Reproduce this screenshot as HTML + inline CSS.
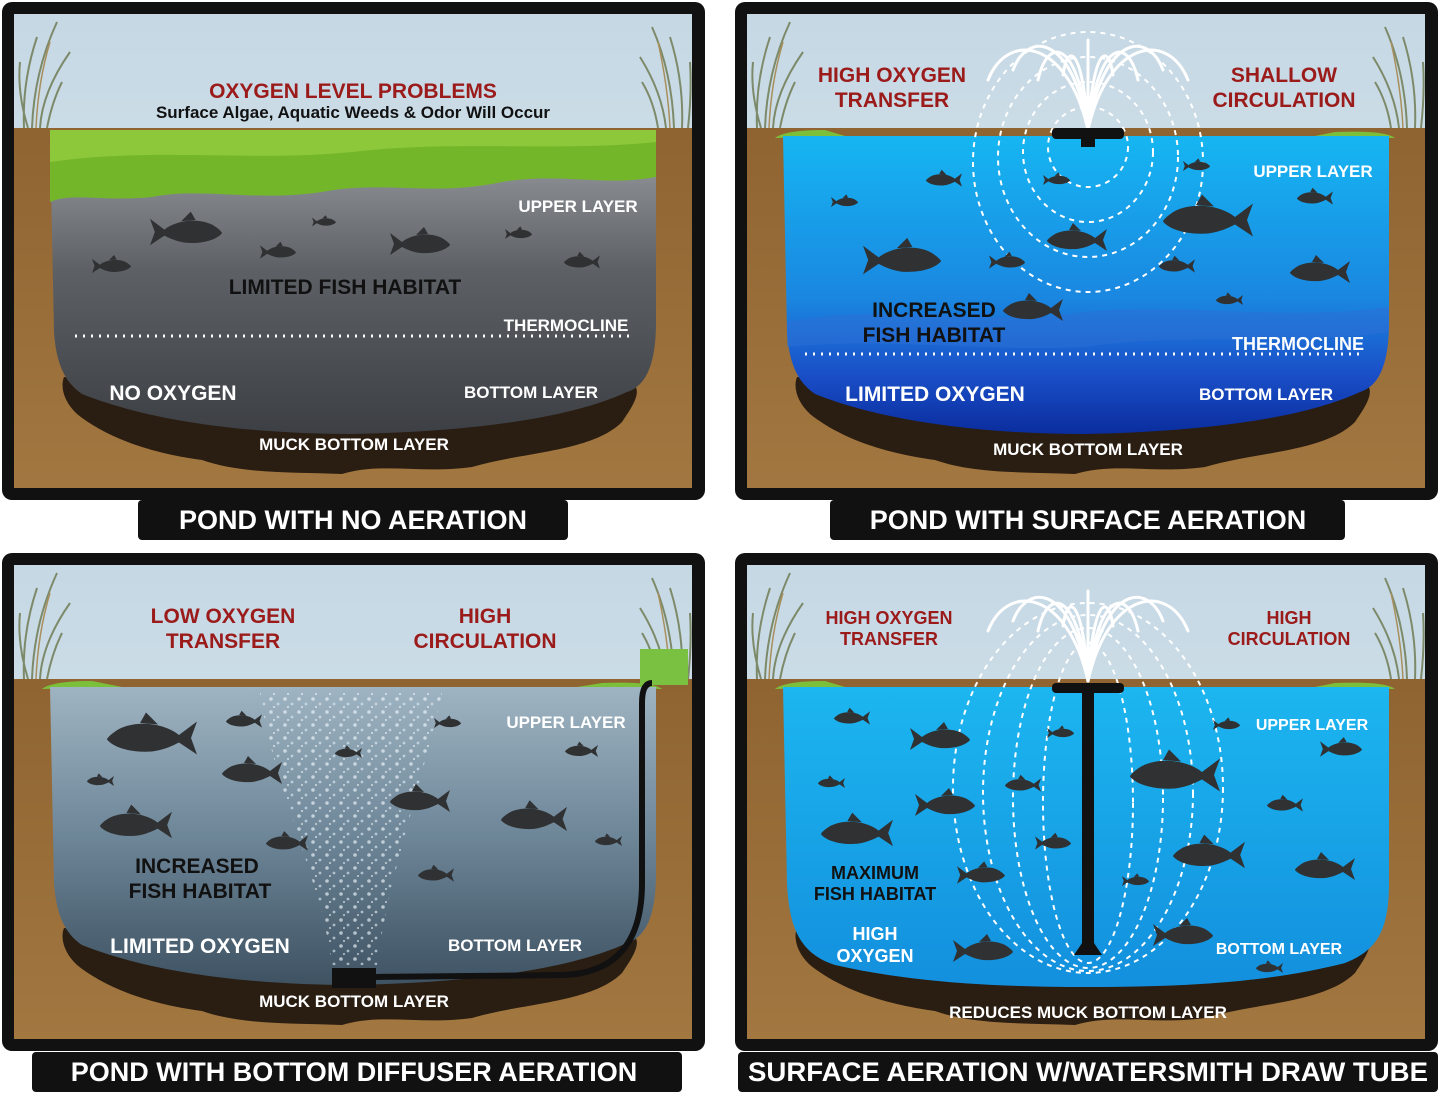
<!DOCTYPE html>
<html><head><meta charset="utf-8">
<style>
html,body{margin:0;padding:0;background:#fff;}
svg{display:block;}
text{font-family:"Liberation Sans",sans-serif;font-weight:bold;}
</style></head>
<body>
<svg width="1440" height="1093" viewBox="0 0 1440 1093" xmlns="http://www.w3.org/2000/svg">
<defs>
  <clipPath id="inner"><rect x="12" y="12" width="678" height="474"/></clipPath>
  <linearGradient id="sky" x1="0" y1="0" x2="0" y2="1">
    <stop offset="0" stop-color="#c5d8e4"/><stop offset="1" stop-color="#dde8ef"/>
  </linearGradient>
  <linearGradient id="dirt" x1="0" y1="0" x2="0" y2="1">
    <stop offset="0" stop-color="#8f6431"/><stop offset="1" stop-color="#a27740"/>
  </linearGradient>
  <linearGradient id="w1" x1="0" y1="0" x2="0" y2="1">
    <stop offset="0" stop-color="#9a9ea3"/><stop offset="0.45" stop-color="#5d6166"/><stop offset="1" stop-color="#3c3f44"/>
  </linearGradient>
  <linearGradient id="w2" x1="0" y1="0" x2="0" y2="1">
    <stop offset="0" stop-color="#16b6f2"/><stop offset="0.55" stop-color="#1a86e0"/><stop offset="0.8" stop-color="#1a4fc8"/><stop offset="1" stop-color="#0a2d9e"/>
  </linearGradient>
  <linearGradient id="w3" x1="0" y1="0" x2="0" y2="1">
    <stop offset="0" stop-color="#9fb4c2"/><stop offset="0.5" stop-color="#6d8698"/><stop offset="1" stop-color="#3e5262"/>
  </linearGradient>
  <linearGradient id="w4" x1="0" y1="0" x2="0" y2="1">
    <stop offset="0" stop-color="#1cb6f0"/><stop offset="1" stop-color="#138fdd"/>
  </linearGradient>
  <pattern id="bub" width="14" height="13" patternUnits="userSpaceOnUse">
    <circle cx="3" cy="3" r="1.8" fill="#eef6fb"/><circle cx="10" cy="8" r="1.4" fill="#dceaf3"/><circle cx="6" cy="11" r="1" fill="#fff"/>
  </pattern>
  <path id="fish" d="M0,-11 L12,-2 C22,-10 40,-12 52,-6 C57,-3 60,0 60,1 C56,6 45,10 30,9 C22,8 16,5 12,3 L0,11 L4,0 Z M26,-9 L34,-17 L38,-10 Z" fill="#2f3133"/>
  <g id="base">
    <rect x="0" y="0" width="703" height="498" rx="10" fill="#111"/>
    <rect x="12" y="12" width="678" height="474" fill="url(#sky)"/>
    <rect x="12" y="126" width="678" height="360" fill="url(#dirt)"/>
    <path d="M62,375 C100,378 130,380 160,378 L625,378 C645,385 630,405 620,420 C590,450 520,450 470,465 C420,472 380,460 340,472 C290,470 240,472 200,458 C140,450 100,432 75,412 C62,400 58,385 62,375Z" fill="#2a1d12"/>
    <g stroke="#7d8a6a" stroke-width="2" fill="none">
      <path d="M22,126 Q20,80 35,35 M30,126 Q32,70 55,20 M38,126 Q40,90 68,50 M26,126 Q15,90 18,60 M45,126 Q50,100 60,80"/>
      <path d="M680,126 Q682,80 668,35 M672,126 Q670,70 650,25 M664,126 Q660,90 638,55 M686,126 Q690,90 688,60 M656,126 Q652,100 640,80"/>
    </g>
    <g stroke="#a88f5c" stroke-width="1.5" fill="none">
      <path d="M34,126 Q36,80 48,40 M668,126 Q666,85 656,40"/>
    </g>
  </g>
  <path id="bowl" d="M48,134 H654 V320 C654,370 640,385 625,390 C560,420 450,430 350,432 C250,432 150,420 80,392 C62,380 54,360 52,330 Z"/>
  <g id="fount" fill="none" stroke="#fff" stroke-width="3" stroke-linecap="round">
    <path d="M0,0 C-20,-90 -80,-100 -100,-50"/>
    <path d="M0,0 C-15,-95 -60,-100 -75,-60"/>
    <path d="M0,0 C-10,-90 -40,-95 -50,-50"/>
    <path d="M0,0 C-5,-80 -20,-90 -25,-55"/>
    <path d="M0,0 C20,-90 80,-100 100,-50"/>
    <path d="M0,0 C15,-95 60,-100 75,-60"/>
    <path d="M0,0 C10,-90 40,-95 50,-50"/>
    <path d="M0,0 C5,-80 20,-90 25,-55"/>
    <path d="M0,0 L0,-90"/>
  </g>
</defs>

<!-- PANEL 1 -->
<g transform="translate(2,2)">
  <use href="#base"/>
  <use href="#bowl" fill="url(#w1)"/>
  <path d="M48,128 H654 V175 C600,185 560,170 500,180 C430,195 380,178 320,190 C250,200 200,185 150,195 C100,200 70,190 48,200 Z" fill="#74b62a"/>
  <path d="M48,128 H654 V140 C560,150 450,138 350,150 C250,160 150,145 48,160 Z" fill="#8dc83a"/>
  <use href="#fish" transform="translate(148,230) scale(1.2)"/>
  <use href="#fish" transform="translate(310,220) scale(0.4)"/>
  <use href="#fish" transform="translate(258,250) scale(0.6)"/>
  <use href="#fish" transform="translate(388,242) scale(1)"/>
  <use href="#fish" transform="translate(503,232) scale(0.45)"/>
  <use href="#fish" transform="translate(598,260) scale(-0.6,0.6)"/>
  <use href="#fish" transform="translate(90,264) scale(0.65)"/>
  <text x="351" y="96" text-anchor="middle" font-size="21" fill="#9b1a1a">OXYGEN LEVEL PROBLEMS</text>
  <text x="351" y="116" text-anchor="middle" font-size="17" fill="#111">Surface Algae, Aquatic Weeds &amp; Odor Will Occur</text>
  <text x="576" y="210" text-anchor="middle" font-size="17" fill="#fff">UPPER LAYER</text>
  <text x="343" y="292" text-anchor="middle" font-size="21" fill="#111">LIMITED FISH HABITAT</text>
  <text x="564" y="329" text-anchor="middle" font-size="17" fill="#fff">THERMOCLINE</text>
  <line x1="73" y1="334" x2="630" y2="334" stroke="#fff" stroke-width="3" stroke-dasharray="2,6"/>
  <text x="171" y="398" text-anchor="middle" font-size="21" fill="#fff">NO OXYGEN</text>
  <text x="529" y="396" text-anchor="middle" font-size="17" fill="#fff">BOTTOM LAYER</text>
  <text x="352" y="448" text-anchor="middle" font-size="17" fill="#fff">MUCK BOTTOM LAYER</text>
</g>
<rect x="138" y="500" width="430" height="40" rx="4" fill="#111"/>
<text x="353" y="529" text-anchor="middle" font-size="27" fill="#fff">POND WITH NO AERATION</text>

<!-- PANEL 2 -->
<g transform="translate(735,2)">
  <use href="#base"/>
  <path d="M40,136 Q50,128 90,128 L110,134 Z M660,136 Q650,128 600,130 L580,134 Z" fill="#7cbf3a"/>
  <use href="#bowl" fill="url(#w2)"/>
  <path d="M52,320 C150,300 250,325 350,310 C450,300 550,320 654,305 V330 C550,345 450,330 350,345 C250,350 150,335 52,345 Z" fill="#2e6fd6" opacity="0.5"/>
  <g fill="none" stroke="#fff" stroke-width="2" stroke-dasharray="5,5" clip-path="url(#inner)">
    <ellipse cx="353" cy="145" rx="40" ry="40"/>
    <ellipse cx="353" cy="150" rx="65" ry="70"/>
    <ellipse cx="353" cy="155" rx="90" ry="100"/>
    <ellipse cx="353" cy="160" rx="115" ry="130"/>
  </g>
  <use href="#fount" transform="translate(353,128)"/>
  <rect x="317" y="126" width="72" height="11" rx="4" fill="#111"/>
  <rect x="346" y="136" width="14" height="9" fill="#111"/>
  <use href="#fish" transform="translate(227,178) scale(-0.6,0.6)"/>
  <use href="#fish" transform="translate(96,200) scale(0.45)"/>
  <use href="#fish" transform="translate(308,178) scale(0.45)"/>
  <use href="#fish" transform="translate(448,164) scale(0.45)"/>
  <use href="#fish" transform="translate(598,196) scale(-0.6,0.6)"/>
  <use href="#fish" transform="translate(518,218) scale(-1.5,1.5)"/>
  <use href="#fish" transform="translate(372,238) scale(-1,1)"/>
  <use href="#fish" transform="translate(128,258) scale(1.3)"/>
  <use href="#fish" transform="translate(254,260) scale(0.6)"/>
  <use href="#fish" transform="translate(460,264) scale(-0.6,0.6)"/>
  <use href="#fish" transform="translate(615,270) scale(-1,1)"/>
  <use href="#fish" transform="translate(328,308) scale(-1,1)"/>
  <use href="#fish" transform="translate(508,298) scale(-0.45,0.45)"/>
  <text x="157" y="80" text-anchor="middle" font-size="21" fill="#9b1a1a">HIGH OXYGEN</text>
  <text x="157" y="105" text-anchor="middle" font-size="21" fill="#9b1a1a">TRANSFER</text>
  <text x="549" y="80" text-anchor="middle" font-size="21" fill="#9b1a1a">SHALLOW</text>
  <text x="549" y="105" text-anchor="middle" font-size="21" fill="#9b1a1a">CIRCULATION</text>
  <text x="578" y="175" text-anchor="middle" font-size="17" fill="#fff">UPPER LAYER</text>
  <text x="199" y="315" text-anchor="middle" font-size="21" fill="#111">INCREASED</text>
  <text x="199" y="340" text-anchor="middle" font-size="21" fill="#111">FISH HABITAT</text>
  <text x="563" y="348" text-anchor="middle" font-size="18" fill="#fff">THERMOCLINE</text>
  <line x1="70" y1="352" x2="630" y2="352" stroke="#fff" stroke-width="3" stroke-dasharray="2,6"/>
  <text x="200" y="399" text-anchor="middle" font-size="21" fill="#fff">LIMITED OXYGEN</text>
  <text x="531" y="398" text-anchor="middle" font-size="17" fill="#fff">BOTTOM LAYER</text>
  <text x="353" y="453" text-anchor="middle" font-size="17" fill="#fff">MUCK BOTTOM LAYER</text>
</g>
<rect x="830" y="500" width="515" height="40" rx="4" fill="#111"/>
<text x="1088" y="529" text-anchor="middle" font-size="27" fill="#fff">POND WITH SURFACE AERATION</text>

<!-- PANEL 3 -->
<g transform="translate(2,553)">
  <use href="#base"/>
  <path d="M40,136 Q50,128 90,128 L120,134 Z M660,136 Q650,128 600,130 L575,134 Z" fill="#7cbf3a"/>
  <use href="#bowl" fill="url(#w3)"/>
  <path d="M330,412 C320,330 270,230 258,140 L440,140 C420,230 385,330 375,412 Z" fill="url(#bub)" opacity="0.65"/>
  <use href="#fish" transform="translate(195,185) scale(-1.5,1.5)"/>
  <use href="#fish" transform="translate(112,228) scale(-0.45,0.45)"/>
  <use href="#fish" transform="translate(280,220) scale(-1,1)"/>
  <use href="#fish" transform="translate(170,272) scale(-1.2,1.2)"/>
  <use href="#fish" transform="translate(306,290) scale(-0.7,0.7)"/>
  <use href="#fish" transform="translate(260,168) scale(-0.6,0.6)"/>
  <use href="#fish" transform="translate(360,200) scale(-0.45,0.45)"/>
  <use href="#fish" transform="translate(432,170) scale(0.45)"/>
  <use href="#fish" transform="translate(448,248) scale(-1,1)"/>
  <use href="#fish" transform="translate(596,198) scale(-0.55,0.55)"/>
  <use href="#fish" transform="translate(565,266) scale(-1.1,1.1)"/>
  <use href="#fish" transform="translate(620,288) scale(-0.45,0.45)"/>
  <use href="#fish" transform="translate(452,322) scale(-0.6,0.6)"/>
  <rect x="638" y="96" width="48" height="36" fill="#7ac142"/>
  <path d="M650,130 Q640,130 640,150 L640,330 Q640,420 560,422 L372,424" fill="none" stroke="#111" stroke-width="6"/>
  <rect x="330" y="415" width="44" height="20" fill="#111"/>
  <text x="221" y="70" text-anchor="middle" font-size="21" fill="#9b1a1a">LOW OXYGEN</text>
  <text x="221" y="95" text-anchor="middle" font-size="21" fill="#9b1a1a">TRANSFER</text>
  <text x="483" y="70" text-anchor="middle" font-size="21" fill="#9b1a1a">HIGH</text>
  <text x="483" y="95" text-anchor="middle" font-size="21" fill="#9b1a1a">CIRCULATION</text>
  <text x="564" y="175" text-anchor="middle" font-size="17" fill="#fff">UPPER LAYER</text>
  <text x="195" y="320" text-anchor="middle" font-size="21" fill="#111">INCREASED</text>
  <text x="198" y="345" text-anchor="middle" font-size="21" fill="#111">FISH HABITAT</text>
  <text x="198" y="400" text-anchor="middle" font-size="21" fill="#fff">LIMITED OXYGEN</text>
  <text x="513" y="398" text-anchor="middle" font-size="17" fill="#fff">BOTTOM LAYER</text>
  <text x="352" y="454" text-anchor="middle" font-size="17" fill="#fff">MUCK BOTTOM LAYER</text>
</g>
<rect x="32" y="1052" width="650" height="40" rx="4" fill="#111"/>
<text x="354" y="1081" text-anchor="middle" font-size="27" fill="#fff">POND WITH BOTTOM DIFFUSER AERATION</text>

<!-- PANEL 4 -->
<g transform="translate(735,553)">
  <use href="#base"/>
  <path d="M40,136 Q50,128 90,128 L110,134 Z M660,136 Q650,128 600,130 L580,134 Z" fill="#7cbf3a"/>
  <path d="M48,134 H654 V330 C654,380 640,398 610,410 C540,428 460,434 353,434 C250,434 170,428 100,412 C62,400 54,370 52,330 Z" fill="url(#w4)"/>
  <g fill="none" stroke="#fff" stroke-width="2" stroke-dasharray="5,5" clip-path="url(#inner)">
    <ellipse cx="353" cy="250" rx="45" ry="160"/>
    <ellipse cx="353" cy="245" rx="75" ry="170"/>
    <ellipse cx="353" cy="240" rx="105" ry="178"/>
    <ellipse cx="353" cy="235" rx="135" ry="185"/>
  </g>
  <use href="#fount" transform="translate(353,128)"/>
  <rect x="317" y="130" width="72" height="10" rx="4" fill="#111"/>
  <rect x="347" y="138" width="12" height="254" fill="#111"/>
  <path d="M347,390 L339,402 H367 L359,390 Z" fill="#111"/>
  <use href="#fish" transform="translate(135,165) scale(-0.6,0.6)"/>
  <use href="#fish" transform="translate(175,186) scale(1)"/>
  <use href="#fish" transform="translate(312,180) scale(0.45)"/>
  <use href="#fish" transform="translate(478,172) scale(0.45)"/>
  <use href="#fish" transform="translate(585,196) scale(0.7)"/>
  <use href="#fish" transform="translate(110,230) scale(-0.45,0.45)"/>
  <use href="#fish" transform="translate(306,232) scale(-0.6,0.6)"/>
  <use href="#fish" transform="translate(485,222) scale(-1.5,1.5)"/>
  <use href="#fish" transform="translate(180,252) scale(1)"/>
  <use href="#fish" transform="translate(568,252) scale(-0.6,0.6)"/>
  <use href="#fish" transform="translate(158,280) scale(-1.2,1.2)"/>
  <use href="#fish" transform="translate(300,290) scale(0.6)"/>
  <use href="#fish" transform="translate(510,302) scale(-1.2,1.2)"/>
  <use href="#fish" transform="translate(620,316) scale(-1,1)"/>
  <use href="#fish" transform="translate(222,322) scale(0.8)"/>
  <use href="#fish" transform="translate(387,328) scale(0.45)"/>
  <use href="#fish" transform="translate(418,382) scale(1)"/>
  <use href="#fish" transform="translate(218,398) scale(1)"/>
  <use href="#fish" transform="translate(548,415) scale(-0.45,0.45)"/>
  <text x="154" y="71" text-anchor="middle" font-size="18" fill="#9b1a1a">HIGH OXYGEN</text>
  <text x="154" y="92" text-anchor="middle" font-size="18" fill="#9b1a1a">TRANSFER</text>
  <text x="554" y="71" text-anchor="middle" font-size="18" fill="#9b1a1a">HIGH</text>
  <text x="554" y="92" text-anchor="middle" font-size="18" fill="#9b1a1a">CIRCULATION</text>
  <text x="577" y="177" text-anchor="middle" font-size="16" fill="#fff">UPPER LAYER</text>
  <text x="140" y="326" text-anchor="middle" font-size="18" fill="#111">MAXIMUM</text>
  <text x="140" y="347" text-anchor="middle" font-size="18" fill="#111">FISH HABITAT</text>
  <text x="140" y="387" text-anchor="middle" font-size="18" fill="#fff">HIGH</text>
  <text x="140" y="409" text-anchor="middle" font-size="18" fill="#fff">OXYGEN</text>
  <text x="544" y="401" text-anchor="middle" font-size="16" fill="#fff">BOTTOM LAYER</text>
  <text x="353" y="465" text-anchor="middle" font-size="17" fill="#fff">REDUCES MUCK BOTTOM LAYER</text>
</g>
<rect x="738" y="1052" width="700" height="40" rx="4" fill="#111"/>
<text x="1088" y="1081" text-anchor="middle" font-size="27" fill="#fff" textLength="680" lengthAdjust="spacingAndGlyphs">SURFACE AERATION W/WATERSMITH DRAW TUBE</text>
</svg>
</body></html>
